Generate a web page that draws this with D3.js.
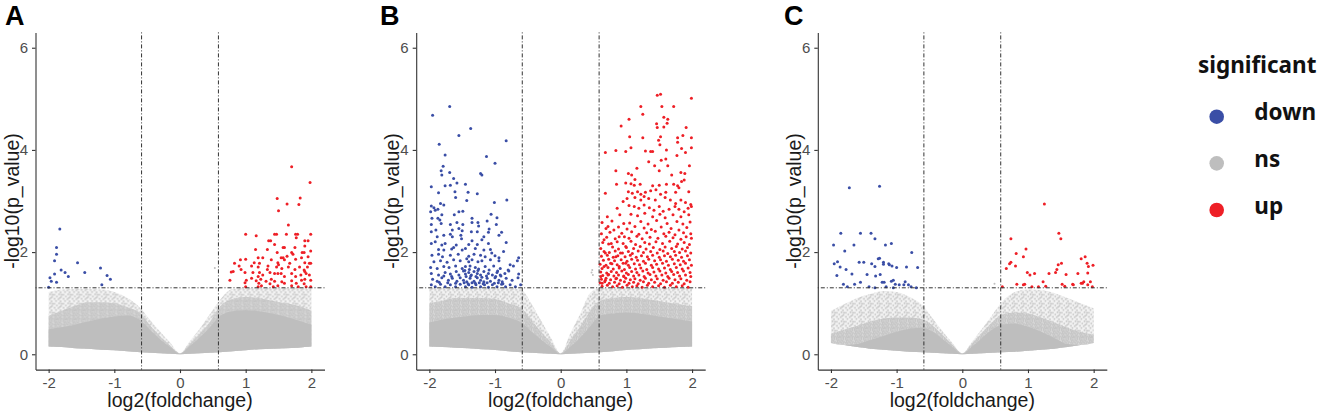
<!DOCTYPE html>
<html>
<head>
<meta charset="utf-8">
<script src="https://cdn.jsdelivr.net/npm/d3@7"></script>
<style>
  body { margin: 0; background: #fff; }
  svg { display: block; }
  .tick text { font-family: "Liberation Sans", Arial, sans-serif; font-size: 15px; fill: #4d4d4d; }
  .axis-title { font-family: "Liberation Sans", Arial, sans-serif; font-size: 19.5px; fill: #1a1a1a; }
  .panel-tag { font-family: "Liberation Sans", Arial, sans-serif; font-size: 27px; font-weight: bold; fill: #000; }
  .legend text { font-family: "Noto Sans", sans-serif; font-weight: 700; fill: #111; }
</style>
</head>
<body>
<svg id="chart"></svg>
<script>
// ---- data ----
const xTicks = [-2, -1, 0, 1, 2];
const yTicks = [0, 2, 4, 6];
const fcCut = 0.585;   // log2(1.5)
const pCut = 1.301;    // -log10(0.05)
const categories = ['down', 'ns', 'up'];

// envelope of the grey (ns) cloud, sampled along log2 fold change
const nsX = [-2, -1.8, -1.6, -1.4, -1.2, -1.0, -0.8, -0.6, -0.45, -0.3, -0.15, 0, 0.15, 0.3, 0.45, 0.6, 0.8, 1.0, 1.2, 1.4, 1.6, 1.8, 2.0];

const aNsBottom = [0.15,0.14,0.12,0.11,0.09,0.08,0.06,0.04,0.03,0.02,0.01,0,0.01,0.02,0.03,0.04,0.06,0.08,0.10,0.11,0.12,0.13,0.15];
const aNsSolid  = [0.49,0.53,0.58,0.64,0.70,0.74,0.76,0.66,0.47,0.29,0.14,0.01,0.16,0.33,0.52,0.74,0.84,0.86,0.84,0.80,0.74,0.66,0.58];
const aNsMid    = [0.75,0.85,0.95,1.02,1.02,1.00,0.92,0.80,0.56,0.35,0.17,0.02,0.20,0.40,0.62,0.92,1.08,1.12,1.10,1.05,1.00,0.95,0.85];
const aNsTop    = [1.22,1.27,1.28,1.28,1.27,1.22,1.10,0.90,0.66,0.44,0.23,0.02,0.26,0.50,0.78,1.05,1.28,1.29,1.29,1.29,1.29,1.29,1.28];

const bNsBottom = [0.15,0.14,0.13,0.12,0.10,0.085,0.06,0.04,0.03,0.02,0.01,0,0.01,0.02,0.03,0.04,0.06,0.085,0.10,0.12,0.13,0.14,0.15];
const bNsSolid  = [0.62,0.68,0.72,0.75,0.77,0.77,0.72,0.62,0.45,0.29,0.14,0.01,0.15,0.33,0.55,0.76,0.80,0.82,0.80,0.76,0.72,0.68,0.64];
const bNsMid    = [1.00,1.05,1.10,1.10,1.10,1.08,1.00,0.90,0.68,0.44,0.23,0.02,0.28,0.55,0.85,1.05,1.10,1.12,1.10,1.06,1.02,0.98,0.94];
const bNsTop    = [1.29,1.29,1.29,1.29,1.29,1.29,1.29,1.27,1.00,0.66,0.33,0.02,0.42,0.80,1.20,1.29,1.29,1.29,1.29,1.29,1.29,1.29,1.29];

const cNsBottom = [0.22,0.18,0.14,0.11,0.09,0.07,0.05,0.04,0.03,0.02,0.01,0,0.01,0.02,0.03,0.04,0.05,0.07,0.09,0.11,0.14,0.18,0.22];
const cNsSolid  = [0.22,0.18,0.20,0.28,0.36,0.44,0.50,0.52,0.44,0.30,0.14,0.01,0.15,0.32,0.48,0.58,0.60,0.54,0.44,0.32,0.20,0.18,0.22];
const cNsMid    = [0.40,0.48,0.56,0.64,0.70,0.72,0.72,0.68,0.56,0.38,0.19,0.02,0.21,0.42,0.62,0.78,0.82,0.80,0.72,0.62,0.52,0.44,0.38];
const cNsTop    = [0.85,0.98,1.10,1.18,1.24,1.22,1.12,0.95,0.70,0.45,0.22,0.02,0.25,0.50,0.76,1.02,1.22,1.27,1.26,1.20,1.10,1.00,0.90];

// grey points sitting above the p cut but inside the fold change cut
const aNsOut = [[0.53,1.69]];
const bNsOut = [[0.47,1.60],[0.48,1.65],[0.49,1.55]];
const cNsOut = [[-0.58,1.87],[0.49,1.38]];

// panel A
const aDown = [[-1.83,2.45],[-1.88,2.09],[-1.88,1.96],[-1.91,1.83],[-1.81,1.65],[-1.75,1.60],[-1.70,1.52],[-1.91,1.57],[-1.98,1.50],[-1.96,1.43],[-1.88,1.41],[-2.00,1.31],[-1.56,1.79],[-1.45,1.60],[-1.21,1.69],[-1.11,1.54],[-1.06,1.47],[-1.19,1.36]];
const aUp = [[1.70,3.67],[1.98,3.36],[1.48,3.05],[1.83,3.06],[1.63,2.94],[1.81,2.93],[1.50,2.81],[1.65,2.53],
  [1.00,2.35],[1.16,2.32],[1.44,2.35],[1.47,2.35],[1.62,2.35],[1.76,2.35],[1.79,2.35],[1.99,2.35],
  [1.35,2.22],[1.38,2.22],[1.77,2.28],[1.90,2.22],[1.95,2.22],[1.44,2.15],[1.90,2.12],[1.15,2.05],[1.33,2.05],[1.57,2.09],[1.59,2.09],[1.75,2.09],
  [1.48,1.99],[1.70,1.99],[1.72,1.96],[1.86,1.99],[1.89,1.99],[1.99,2.02],[1.63,1.92],[1.19,1.89],[1.26,1.89],[1.54,1.89],[1.57,1.89],[1.85,1.89],
  [1.00,1.86],[0.92,1.85],[1.39,1.85],[1.59,1.85],[1.76,1.86],[1.95,1.91],[1.13,1.79],[1.21,1.78],[1.49,1.79],[1.67,1.78],[1.90,1.79],[1.97,1.78],[1.99,1.78],
  [0.83,1.78],[1.09,1.73],[1.19,1.71],[1.34,1.73],[1.47,1.71],[1.50,1.75],[1.65,1.71],[1.82,1.71],[1.94,1.71],[0.93,1.66],[1.33,1.66],[1.55,1.68],[1.75,1.66],[1.89,1.65],
  [0.81,1.62],[0.99,1.60],[1.11,1.60],[1.21,1.60],[1.37,1.60],[1.44,1.58],[1.49,1.58],[1.54,1.58],[1.70,1.58],[1.90,1.62],[1.92,1.58],
  [1.19,1.52],[1.26,1.55],[1.59,1.52],[1.76,1.52],[1.84,1.55],[1.97,1.55],[0.76,1.45],[1.01,1.45],[1.09,1.49],[1.16,1.44],[1.23,1.47],[1.31,1.43],[1.39,1.47],
  [1.44,1.43],[1.55,1.42],[1.70,1.44],[1.85,1.45],[1.90,1.47],[1.99,1.45],[0.99,1.40],[1.20,1.39],[1.37,1.38],[1.59,1.39],[1.77,1.39],[1.89,1.38],
  [1.00,1.32],[1.19,1.32],[1.24,1.34],[1.42,1.32],[1.49,1.34],[1.70,1.34],[1.80,1.32],[1.92,1.32],[1.99,1.32],[0.78,1.61],[0.90,1.73]];

// panel B
const bDown = [[-1.69,4.85],[-1.95,4.68],[-1.37,4.42],[-1.55,4.28],[-0.83,4.18],[-1.85,4.11],[-1.76,3.90],[-1.13,3.87],[-1.00,3.74],[-1.79,3.68],[-1.82,3.59],
  [-1.22,3.54],[-1.20,3.51],[-1.69,3.56],[-1.81,3.51],[-1.63,3.44],[-1.58,3.35],[-1.76,3.30],[-1.68,3.31],[-1.45,3.33],[-1.97,3.28],[-1.61,3.18],[-1.41,3.17],
  [-1.27,3.14],[-1.86,3.16],[-1.60,3.07],[-1.43,3.01],[-0.82,3.02],[-1.01,2.97],[-1.83,2.95],[-1.97,2.90],[-1.93,2.87],[-1.78,2.92],[-1.91,2.82],[-1.87,2.84],
  [-1.98,2.79],[-1.55,2.79],[-1.49,2.80],[-1.81,2.73],[-1.96,2.66],[-1.87,2.66],[-1.62,2.73],[-1.35,2.66],[-1.06,2.74],[-0.97,2.67],[-1.84,2.63],[-1.82,2.56],
  [-1.97,2.54],[-1.68,2.54],[-1.58,2.58],[-1.49,2.54],[-1.35,2.58],[-1.26,2.58],[-1.25,2.51],[-1.12,2.61],[-0.98,2.54],[-1.97,2.40],[-1.90,2.43],[-1.65,2.43],
  [-1.55,2.46],[-1.50,2.42],[-1.36,2.40],[-1.27,2.40],[-1.10,2.39],[-1.09,2.45],[-0.90,2.39],[-1.88,2.30],[-1.78,2.33],[-1.68,2.35],[-1.65,2.30],[-1.52,2.33],
  [-1.51,2.26],[-1.35,2.22],[-1.20,2.24],[-1.17,2.30],[-0.94,2.33],[-1.97,2.17],[-1.91,2.20],[-1.81,2.14],[-1.76,2.17],[-1.59,2.14],[-1.40,2.15],[-1.27,2.15],
  [-1.10,2.17],[-0.83,2.19],[-0.64,1.89],
  [-1.86,2.05],[-1.78,2.04],[-1.66,2.06],[-1.63,2.09],[-1.50,2.04],[-1.45,2.07],[-1.30,2.07],[-1.17,2.04],[-1.07,2.05],[-0.87,2.01],
  [-1.96,1.94],[-1.86,1.96],[-1.80,1.91],[-1.68,1.94],[-1.56,1.96],[-1.40,1.92],[-1.32,1.96],[-1.22,1.94],[-1.15,1.91],[-1.05,1.98],[-1.00,1.93],[-0.94,1.89],
  [-1.93,1.81],[-1.83,1.83],[-1.73,1.80],[-1.63,1.85],[-1.53,1.83],[-1.43,1.87],[-1.40,1.81],[-1.35,1.85],[-1.26,1.81],[-1.20,1.83],[-1.07,1.85],[-0.94,1.83],[-0.77,1.75],[-0.66,1.83],
  [-1.98,1.70],[-1.88,1.68],[-1.78,1.72],[-1.70,1.70],[-1.60,1.73],[-1.50,1.68],[-1.45,1.72],[-1.38,1.73],[-1.30,1.70],[-1.25,1.67],[-1.15,1.72],[-1.02,1.73],[-0.92,1.68],[-0.80,1.65],[-0.72,1.73],
  [-1.97,1.58],[-1.86,1.55],[-1.76,1.60],[-1.68,1.57],[-1.59,1.62],[-1.55,1.55],[-1.48,1.63],[-1.45,1.57],[-1.40,1.60],[-1.36,1.55],[-1.32,1.62],[-1.27,1.58],
  [-1.22,1.55],[-1.17,1.62],[-1.10,1.58],[-1.04,1.55],[-0.97,1.60],[-0.92,1.55],[-0.85,1.58],[-0.79,1.63],[-0.64,1.57],
  [-1.95,1.47],[-1.88,1.43],[-1.81,1.50],[-1.71,1.45],[-1.65,1.49],[-1.58,1.43],[-1.53,1.50],[-1.48,1.45],[-1.43,1.42],[-1.38,1.49],[-1.32,1.43],[-1.27,1.50],
  [-1.22,1.45],[-1.17,1.42],[-1.12,1.49],[-1.07,1.43],[-1.00,1.50],[-0.94,1.45],[-0.89,1.42],[-0.83,1.49],[-0.74,1.45],[-0.65,1.50],
  [-1.97,1.36],[-1.91,1.32],[-1.83,1.37],[-1.76,1.32],[-1.68,1.36],[-1.60,1.32],[-1.53,1.37],[-1.45,1.32],[-1.40,1.36],[-1.35,1.31],[-1.29,1.36],[-1.22,1.32],
  [-1.16,1.36],[-1.10,1.31],[-1.04,1.36],[-0.97,1.32],[-0.90,1.37],[-0.84,1.32],[-0.77,1.36],[-0.69,1.32],[-0.61,1.36],
  [-1.47,1.40],[-1.41,1.38],[-1.35,1.40],[-1.30,1.39],[-1.24,1.40],[-1.18,1.38],[-1.12,1.40],[-1.01,1.39],[-0.95,1.40],[-0.88,1.38],[-1.44,1.52],[-1.37,1.53],
  [-1.29,1.52],[-1.20,1.51],[-1.13,1.53],[-0.99,1.52],[-0.91,1.53],[-1.46,1.64],[-1.39,1.66],[-1.26,1.64],[-1.09,1.65],[-0.96,1.63],[-1.60,1.39],[-1.72,1.40],
  [-1.85,1.41],[-1.66,1.52],[-1.78,1.53]];

const bUp = [[1.47,5.07],[1.52,5.09],[1.99,5.01],[1.22,4.85],[1.54,4.85],[1.72,4.85],[1.25,4.70],[1.04,4.60],[1.57,4.64],[1.63,4.60],[1.46,4.51],[1.62,4.52],
  [1.47,4.44],[1.57,4.45],[1.91,4.44],[0.92,4.47],[1.05,4.26],[1.25,4.24],[1.52,4.26],[1.78,4.24],[1.86,4.28],[1.99,4.24],[1.49,4.19],[1.78,4.15],[1.51,4.10],
  [1.07,4.04],[1.84,4.03],[1.99,4.04],[1.29,3.98],[1.37,3.97],[1.40,3.97],[1.61,4.00],[1.90,3.95],[0.99,3.97],[0.68,3.95],[0.84,3.99],[1.77,3.89],[1.53,3.80],
  [1.60,3.82],[1.34,3.77],[1.43,3.69],[1.63,3.69],[1.96,3.69],[1.16,3.64],[0.84,3.59],[1.50,3.59],[1.03,3.54],[1.08,3.51],[1.69,3.51],[1.83,3.56],[1.89,3.54],
  [1.13,3.42],[0.99,3.35],[0.85,3.33],[1.07,3.34],[1.12,3.31],[1.21,3.33],[1.40,3.30],[1.50,3.31],[1.61,3.33],[1.72,3.33],[1.78,3.30],[1.84,3.38],[1.88,3.41],
  [0.68,3.15],[1.03,3.18],[1.09,3.15],[1.17,3.18],[1.22,3.13],[1.29,3.17],[1.37,3.20],[1.45,3.22],[1.52,3.13],[1.60,3.17],[1.75,3.17],[1.80,3.26],[1.95,3.18],
  [0.95,2.99],[1.01,3.05],[1.13,3.07],[1.22,3.02],[1.27,3.09],[1.34,3.05],[1.44,3.02],[1.59,3.07],[1.67,3.02],[1.75,2.95],[1.83,3.02],[1.90,2.97],[1.98,2.93],
  [0.86,2.86],[1.04,2.91],[1.12,2.89],[1.19,2.86],[1.27,2.92],[1.35,2.87],[1.42,2.82],[1.50,2.89],[1.56,2.80],[1.65,2.84],[1.74,2.89],[1.80,2.84],[1.88,2.79],
  [1.94,2.86],[1.99,2.89],[0.71,2.69],[0.90,2.73],[1.07,2.74],[1.17,2.71],[1.28,2.76],[1.40,2.69],[1.51,2.74],[1.59,2.67],[1.71,2.73],[1.83,2.69],[1.95,2.73],
  [0.72,2.50],[0.81,2.43],[0.96,2.56],[0.66,2.24],[0.77,2.17],[0.89,2.30],[0.99,2.11],[0.68,1.98],[0.84,1.91],[0.94,1.98],[0.66,1.72],[0.76,1.78],[0.89,1.72],
  [0.99,1.78],[0.61,1.52],[0.72,1.55],[0.85,1.49],[0.96,1.53],[0.63,1.39],[0.68,1.45],
  [0.63,2.58],[0.78,2.61],[1.05,2.57],[1.22,2.60],[1.33,2.55],[1.46,2.62],[1.62,2.56],[1.77,2.60],[1.86,2.55],[1.97,2.59],
  [0.69,2.46],[0.88,2.49],[1.01,2.45],[1.13,2.50],[1.27,2.47],[1.38,2.44],[1.53,2.49],[1.68,2.46],[1.80,2.43],[1.92,2.48],
  [0.62,2.36],[0.75,2.39],[0.93,2.37],[1.08,2.40],[1.19,2.35],[1.31,2.38],[1.44,2.41],[1.57,2.36],[1.65,2.39],[1.74,2.34],[1.87,2.38],[1.98,2.36],
  [0.70,2.29],[0.83,2.26],[0.97,2.30],[1.04,2.27],[1.16,2.31],[1.24,2.26],[1.36,2.29],[1.48,2.27],[1.60,2.31],[1.71,2.28],[1.83,2.25],[1.91,2.30],[1.99,2.27],
  [0.64,2.19],[0.73,2.16],[0.86,2.20],[0.95,2.17],[1.07,2.21],[1.14,2.15],[1.28,2.19],[1.35,2.16],[1.45,2.20],[1.55,2.17],[1.66,2.21],[1.78,2.16],[1.88,2.19],[1.96,2.15],
  [0.61,2.07],[0.79,2.10],[0.88,2.06],[1.00,2.09],[1.11,2.07],[1.21,2.11],[1.30,2.06],[1.41,2.09],[1.51,2.05],[1.59,2.10],[1.69,2.07],[1.76,2.11],[1.85,2.06],[1.93,2.09],
  [0.66,2.01],[0.74,1.99],[0.83,2.02],[0.91,1.98],[1.03,2.01],[1.09,1.97],[1.18,2.02],[1.26,1.99],[1.37,2.01],[1.47,1.98],[1.56,2.02],[1.63,1.97],[1.73,2.01],[1.81,1.99],[1.90,2.02],[1.98,1.98],
  [0.62,1.92],[0.71,1.94],[0.80,1.90],[0.87,1.93],[0.98,1.91],[1.06,1.94],[1.15,1.90],[1.23,1.93],[1.32,1.91],[1.40,1.94],[1.50,1.90],[1.58,1.93],[1.67,1.91],[1.75,1.94],[1.84,1.90],[1.93,1.93],
  [0.65,1.84],[0.73,1.86],[0.82,1.83],[0.92,1.85],[1.01,1.82],[1.08,1.86],[1.17,1.84],[1.26,1.82],[1.34,1.86],[1.43,1.83],[1.52,1.85],[1.61,1.82],[1.70,1.86],[1.79,1.84],[1.87,1.82],[1.96,1.85],
  [0.60,1.76],[0.69,1.74],[0.78,1.77],[0.86,1.75],[0.95,1.78],[1.03,1.74],[1.12,1.77],[1.20,1.75],[1.29,1.78],[1.38,1.74],[1.46,1.76],[1.55,1.78],[1.64,1.74],[1.73,1.77],[1.82,1.75],[1.90,1.78],[1.99,1.74],
  [0.63,1.68],[0.72,1.70],[0.80,1.67],[0.89,1.69],[0.97,1.66],[1.05,1.70],[1.14,1.67],[1.22,1.69],[1.31,1.66],[1.40,1.70],[1.49,1.67],[1.58,1.69],[1.67,1.66],[1.76,1.70],[1.85,1.67],[1.94,1.69],
  [0.61,1.61],[0.70,1.59],[0.77,1.62],[0.85,1.60],[0.93,1.63],[1.00,1.59],[1.08,1.62],[1.16,1.60],[1.25,1.63],[1.33,1.59],[1.42,1.61],[1.51,1.63],[1.60,1.59],[1.69,1.62],[1.78,1.60],[1.87,1.63],[1.97,1.60],
  [0.64,1.54],[0.73,1.56],[0.81,1.53],[0.88,1.55],[0.96,1.52],[1.03,1.56],[1.11,1.53],[1.19,1.55],[1.27,1.52],[1.36,1.56],[1.45,1.53],[1.54,1.55],[1.63,1.52],[1.72,1.56],[1.81,1.53],[1.90,1.55],[1.98,1.52],
  [0.62,1.47],[0.69,1.49],[0.76,1.46],[0.84,1.48],[0.91,1.45],[0.99,1.49],[1.06,1.46],[1.13,1.48],[1.21,1.45],[1.29,1.49],[1.38,1.46],[1.47,1.48],[1.56,1.45],[1.65,1.49],[1.74,1.46],[1.83,1.48],[1.92,1.45],
  [0.60,1.40],[0.67,1.42],[0.74,1.39],[0.82,1.41],[0.89,1.38],[0.97,1.42],[1.04,1.39],[1.11,1.41],[1.18,1.38],[1.26,1.42],[1.34,1.39],[1.43,1.41],[1.52,1.38],[1.61,1.42],[1.70,1.39],[1.79,1.41],[1.88,1.38],[1.97,1.42],
  [0.63,1.33],[0.71,1.35],[0.79,1.32],[0.86,1.34],[0.94,1.31],[1.01,1.35],[1.09,1.32],[1.16,1.34],[1.24,1.31],[1.32,1.35],[1.40,1.32],[1.49,1.34],[1.58,1.31],[1.67,1.35],[1.76,1.32],[1.85,1.34],[1.94,1.31]];

// panel C
const cDown = [[-1.72,3.26],[-1.26,3.29],[-1.85,2.37],[-1.55,2.37],[-1.39,2.37],[-1.33,2.26],[-1.96,2.14],[-1.65,2.14],[-1.17,2.14],[-1.08,2.17],[-1.79,2.02],
  [-0.77,1.99],[-1.90,1.81],[-1.95,1.77],[-1.86,1.71],[-1.77,1.66],[-1.57,1.80],[-1.50,1.80],[-1.38,1.77],[-1.33,1.72],[-1.28,1.87],[-1.26,1.88],[-1.20,1.80],
  [-1.20,1.76],[-1.12,1.77],[-1.11,1.75],[-1.07,1.73],[-1.00,1.70],[-0.85,1.71],[-0.68,1.70],[-1.91,1.54],[-1.68,1.57],[-1.45,1.56],[-1.32,1.53],[-1.25,1.56],
  [-1.22,1.41],[-1.19,1.41],[-1.08,1.43],[-1.05,1.45],[-1.02,1.37],[-0.96,1.36],[-0.89,1.36],[-0.87,1.42],[-0.82,1.36],[-0.78,1.32],[-0.70,1.30],[-1.81,1.37],
  [-1.75,1.32],[-1.64,1.37],[-1.55,1.41],[-1.42,1.32],[-1.33,1.30],[-1.16,1.32],[-1.05,1.30]];
const cUp = [[1.25,2.94],[1.47,2.37],[1.50,2.26],[0.74,2.26],[0.97,2.06],[0.82,1.97],[0.93,1.91],[0.74,1.80],[0.72,1.77],[0.81,1.73],[0.67,1.68],[1.51,1.78],
  [1.46,1.75],[1.44,1.66],[1.42,1.60],[1.81,1.87],[1.76,1.58],[0.99,1.60],[1.03,1.55],[1.10,1.58],[1.32,1.58],[1.58,1.56],[1.23,1.42],[0.83,1.37],[0.93,1.36],
  [0.95,1.37],[1.06,1.32],[1.16,1.32],[1.27,1.33],[1.52,1.37],[1.56,1.33],[1.68,1.37],[0.61,1.32],[1.81,1.39],[1.87,1.91],[1.90,1.78],[1.92,1.72],[1.99,1.74],
  [1.91,1.59],[1.83,1.39],[1.85,1.42],[1.95,1.42],[1.98,1.32],[1.91,1.36],[1.69,1.36]];

const colors = { down: '#3a4ea6', ns: '#bebebe', up: '#ee1f26' };

class VolcanoPlot {

  constructor(_config, _data) {
    this.config = {
      parentElement: _config.parentElement,
      tag: _config.tag,
      left: _config.left,
      tagX: _config.tagX,
      top: 32.4,
      width: 289,
      height: 337.2
    };
    this.data = _data;
    this.initVis();
  }

  initVis() {
    let vis = this;

    vis.xScale = d3.scaleLinear()
        .domain([-2.2, 2.2])
        .range([0, vis.config.width]);

    vis.yScale = d3.scaleLinear()
        .domain([-0.3, 6.3])
        .range([vis.config.height, 0]);

    vis.chart = vis.config.parentElement.append('g')
        .attr('transform', `translate(${vis.config.left},${vis.config.top})`);

    // grey cloud rows
    vis.ns = nsX.map((x, i) => ({
      x: x,
      lo: vis.data.nsBottom[i],
      solid: vis.data.nsSolid[i],
      mid: vis.data.nsMid[i],
      top: vis.data.nsTop[i]
    }));

    vis.area = key => d3.area()
        .curve(d3.curveMonotoneX)
        .x(d => vis.xScale(d.x))
        .y0(d => vis.yScale(d.lo))
        .y1(d => vis.yScale(d[key]));

    vis.renderVis();
  }

  renderVis() {
    let vis = this;

    // sparse -> mid -> solid layers of the ns cloud
    vis.chart.append('path')
        .attr('d', vis.area('top')(vis.ns))
        .attr('fill', 'url(#speckleLight)');
    vis.chart.append('path')
        .attr('d', vis.area('mid')(vis.ns))
        .attr('fill', 'url(#speckleMid)');
    vis.chart.append('path')
        .attr('d', vis.area('solid')(vis.ns))
        .attr('fill', colors.ns);

    vis.chart.selectAll('.pt-ns')
      .data(vis.data.nsOut)
      .join('circle')
        .attr('class', 'pt-ns')
        .attr('cx', d => vis.xScale(d[0]))
        .attr('cy', d => vis.yScale(d[1]))
        .attr('r', 1)
        .attr('fill', colors.ns);

    vis.chart.selectAll('.pt-down')
      .data(vis.data.down)
      .join('circle')
        .attr('class', 'pt-down')
        .attr('cx', d => vis.xScale(d[0]))
        .attr('cy', d => vis.yScale(d[1]))
        .attr('r', 1.5)
        .attr('fill', colors.down);

    vis.chart.selectAll('.pt-up')
      .data(vis.data.up)
      .join('circle')
        .attr('class', 'pt-up')
        .attr('cx', d => vis.xScale(d[0]))
        .attr('cy', d => vis.yScale(d[1]))
        .attr('r', 1.5)
        .attr('fill', colors.up);

    // cut-off lines
    const dash = '1,2,4,2';
    [-fcCut, fcCut].forEach(v => {
      vis.chart.append('line')
          .attr('x1', vis.xScale(v)).attr('x2', vis.xScale(v))
          .attr('y1', 0).attr('y2', vis.config.height)
          .attr('stroke', '#333').attr('stroke-width', 1)
          .attr('stroke-dasharray', dash);
    });
    vis.chart.append('line')
        .attr('x1', 0).attr('x2', vis.config.width)
        .attr('y1', vis.yScale(pCut)).attr('y2', vis.yScale(pCut))
        .attr('stroke', '#333').attr('stroke-width', 1)
        .attr('stroke-dasharray', dash);

    // axes
    const xAxis = d3.axisBottom(vis.xScale)
        .tickValues(xTicks)
        .tickFormat(d => String(d))
        .tickSizeInner(3.5).tickSizeOuter(0).tickPadding(4);
    const yAxis = d3.axisLeft(vis.yScale)
        .tickValues(yTicks)
        .tickFormat(d => String(d))
        .tickSizeInner(3.5).tickSizeOuter(0).tickPadding(4);

    const gx = vis.chart.append('g')
        .attr('transform', `translate(0,${vis.config.height})`)
        .call(xAxis);
    const gy = vis.chart.append('g').call(yAxis);
    [gx, gy].forEach(g => {
      g.selectAll('path, line').attr('stroke', '#333').attr('stroke-width', 1.1);
      g.selectAll('text').attr('fill', '#4d4d4d');
    });

    vis.chart.append('text')
        .attr('class', 'axis-title')
        .attr('x', vis.config.width / 2)
        .attr('y', vis.config.height + 37.5)
        .attr('text-anchor', 'middle')
        .text('log2(foldchange)');

    vis.chart.append('text')
        .attr('class', 'axis-title')
        .attr('transform', `translate(-17,${vis.config.height / 2}) rotate(-90)`)
        .attr('text-anchor', 'middle')
        .text('-log10(p_value)');

    vis.config.parentElement.append('text')
        .attr('class', 'panel-tag')
        .attr('x', vis.config.tagX)
        .attr('y', 25)
        .text(vis.config.tag);
  }
}

const svg = d3.select('#chart')
    .attr('width', 1319)
    .attr('height', 413);

// speckle textures for the thinner parts of the grey cloud
const defs = svg.append('defs');
const speckle = (id, size, bg, r, dots) => {
  const p = defs.append('pattern')
      .attr('id', id)
      .attr('patternUnits', 'userSpaceOnUse')
      .attr('width', size).attr('height', size);
  p.append('rect').attr('width', size).attr('height', size).attr('fill', bg);
  dots.forEach(d => p.append('circle')
      .attr('cx', d[0]).attr('cy', d[1]).attr('r', r)
      .attr('fill', colors.ns));
};
speckle('speckleLight', 9, '#f3f3f3', 0.85,
  [[1.0,1.3],[5.6,0.9],[3.4,3.1],[7.6,3.6],[1.1,5.4],[4.9,5.8],[2.6,7.6],[7.1,7.9],[8.1,1.4],[6.2,4.6]]);
speckle('speckleMid', 9, '#dedede', 0.9,
  [[0.9,0.9],[2.9,1.4],[5.1,1.1],[7.4,0.9],[1.7,2.9],[4.0,3.1],[6.3,2.6],[8.1,3.4],[0.9,4.6],[2.8,4.9],
   [5.2,4.4],[7.3,5.1],[1.6,6.6],[3.9,6.9],[6.1,6.3],[8.1,7.1],[0.9,8.1],[2.9,8.2],[5.0,8.1],[7.2,8.1]]);

new VolcanoPlot({ parentElement: svg, tag: 'A', left: 35.5, tagX: 5 },
  { down: aDown, up: aUp, nsOut: aNsOut, nsBottom: aNsBottom, nsSolid: aNsSolid, nsMid: aNsMid, nsTop: aNsTop });
new VolcanoPlot({ parentElement: svg, tag: 'B', left: 416.2, tagX: 380 },
  { down: bDown, up: bUp, nsOut: bNsOut, nsBottom: bNsBottom, nsSolid: bNsSolid, nsMid: bNsMid, nsTop: bNsTop });
new VolcanoPlot({ parentElement: svg, tag: 'C', left: 817.8, tagX: 784 },
  { down: cDown, up: cUp, nsOut: cNsOut, nsBottom: cNsBottom, nsSolid: cNsSolid, nsMid: cNsMid, nsTop: cNsTop });

// legend
const legend = svg.append('g').attr('class', 'legend');
legend.append('text')
    .attr('x', 1198)
    .attr('y', 73)
    .attr('font-size', 22.5)
    .text('significant');

const legendY = d3.scalePoint()
    .domain(categories)
    .range([116.7, 210]);

const item = legend.selectAll('.item')
  .data(categories)
  .join('g')
    .attr('class', 'item')
    .attr('transform', d => `translate(0,${legendY(d)})`);
item.append('circle')
    .attr('cx', 1216.7)
    .attr('r', 7.3)
    .attr('fill', d => colors[d]);
item.append('text')
    .attr('x', 1254.3)
    .attr('y', 3.6)
    .attr('font-size', 22.5)
    .text(d => d);
</script>
</body>
</html>
